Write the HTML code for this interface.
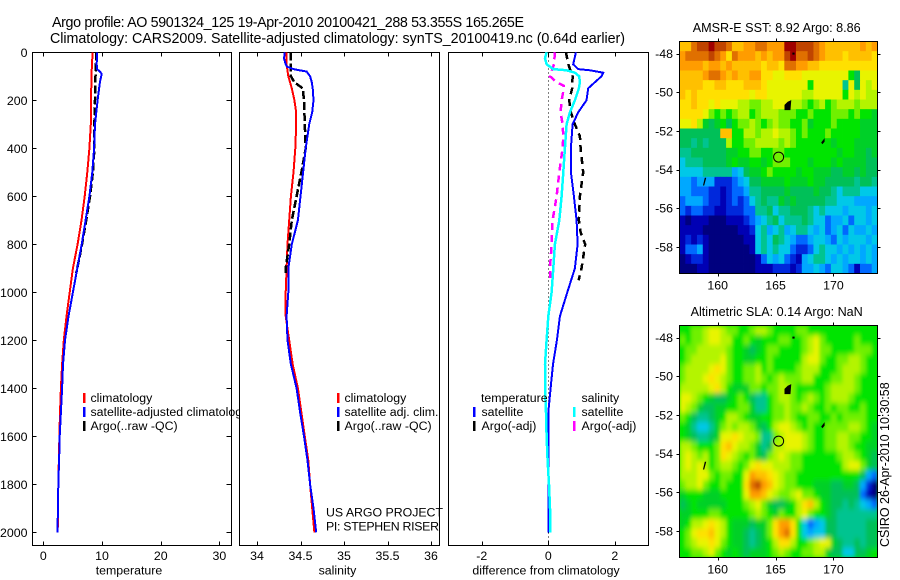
<!DOCTYPE html>
<html lang="en">
<head>
<meta charset="utf-8">
<title>Argo profile 5901324_125</title>
<style>
html,body{margin:0;padding:0;background:#fff;width:900px;height:580px;overflow:hidden}
svg{display:block}
text{font-family:"Liberation Sans",sans-serif;font-size:12.35px;fill:#000}
</style>
</head>
<body>
<svg id="chart" xmlns="http://www.w3.org/2000/svg" width="900" height="580" viewBox="0 0 900 580">
<defs>
<clipPath id="legend-clip"><rect x="0" y="380" width="240" height="60"/></clipPath>
<clipPath id="sla-clip"><rect x="679.5" y="325.5" width="198" height="232"/></clipPath>
<filter id="sla-smooth" x="-5%" y="-5%" width="110%" height="110%"><feGaussianBlur stdDeviation="1.8 2.6"/></filter>
</defs>
<rect width="900" height="580" fill="#fff"/>
<text x="52" y="27" textLength="472" lengthAdjust="spacing" style="font-size:14.3px">Argo profile: AO 5901324_125 19-Apr-2010 20100421_288 53.355S 165.265E</text>
<text x="50" y="43" textLength="575" lengthAdjust="spacing" style="font-size:14.3px">Climatology: CARS2009. Satellite-adjusted climatology: synTS_20100419.nc (0.64d earlier)</text>
<g id="panels"></g>

<g>
<rect x="83" y="393" width="2.5" height="10" fill="#f00"/>
<rect x="83" y="407" width="2.5" height="10" fill="#00f"/>
<rect x="83" y="421" width="2.5" height="10" fill="#000"/>
<text x="90.5" y="402">climatology</text>
<text x="90.5" y="416" clip-path="url(#legend-clip)">satellite-adjusted climatology</text>
<text x="90.5" y="430">Argo(..raw -QC)</text>
</g>
<g>
<rect x="337" y="393" width="2.5" height="10" fill="#f00"/>
<rect x="337" y="407" width="2.5" height="10" fill="#00f"/>
<rect x="337" y="421" width="2.5" height="10" fill="#000"/>
<text x="344.5" y="402">climatology</text>
<text x="344.5" y="416">satellite adj. clim.</text>
<text x="344.5" y="430">Argo(..raw -QC)</text>
<text x="326" y="516.5" textLength="117" lengthAdjust="spacing">US ARGO PROJECT</text>
<text x="326" y="530.5" textLength="113" lengthAdjust="spacing">PI: STEPHEN RISER</text>
</g>
<g>
<text x="481" y="402">temperature</text>
<rect x="473" y="407" width="2.5" height="10" fill="#00f"/>
<rect x="473" y="421" width="2.5" height="10" fill="#000"/>
<text x="481.5" y="416">satellite</text>
<text x="481.5" y="430">Argo(-adj)</text>
<text x="581.5" y="402">salinity</text>
<rect x="573" y="407" width="2.5" height="10" fill="#0ff"/>
<rect x="573" y="421" width="2.5" height="10" fill="#f0f"/>
<text x="581.5" y="416">satellite</text>
<text x="581.5" y="430">Argo(-adj)</text>
</g>
<text transform="translate(889,547) rotate(-90)" style="font-size:12.5px">CSIRO 26-Apr-2010 10:30:58</text>
</svg>
<script>
// ---------- profile data ----------
const depthTicks = [0,200,400,600,800,1000,1200,1400,1600,1800,2000];
const tempTicks = [0,10,20,30];
const salTicks = [34,34.5,35,35.5,36];
const salTickLabels = ['34','34.5','35','35.5','36'];
const diffTicks = [-2,0,2];
const diffTickLabels = ['-2','0','2'];

const climDepth = [0,100,200,300,400,500,600,700,800,900,1000,1100,1200,1300,1400,1500,1600,1800,2000];
const tempClim = [8.4,8.2,8.15,8.1,7.85,7.5,7.05,6.5,5.85,5.05,4.5,3.95,3.5,3.2,3.0,2.85,2.75,2.55,2.45];

const tempSatDepth = [0,50,70,80,90,125,200,300,400,500,600,700,800,900,1000,1100,1200,1300,1400,1500,1600,1700,1800,1900,2000];
const tempSat = [9.15,9.1,9.15,9.65,9.95,9.65,9.25,8.8,8.65,8.35,7.85,7.2,6.55,5.8,5.05,4.3,3.7,3.35,3.2,3.0,2.8,2.7,2.55,2.5,2.4];

const argoTempDepth = [0,100,200,300,400,500,600,700,800,850,920];
const tempArgo = [9.05,8.9,8.8,8.7,8.7,8.45,7.95,7.3,6.6,6.2,5.6];

const salClimDepth = [0,50,100,150,200,250,300,400,500,600,700,800,900,1000,1100,1200,1300,1400,1500,1600,1700,1800,1900,2000];
const salClim = [34.34,34.34,34.36,34.40,34.43,34.45,34.45,34.44,34.42,34.39,34.37,34.35,34.34,34.33,34.33,34.37,34.41,34.47,34.51,34.55,34.59,34.61,34.635,34.66];

const salSatDepth = [0,25,50,60,70,75,80,100,125,150,200,250,300,400,500,600,700,800,900,1000,1100,1200,1300,1400,1500,1600,1700,1800,1900,2000];
const salSat = [34.32,34.31,34.33,34.345,34.42,34.49,34.57,34.61,34.63,34.64,34.65,34.635,34.60,34.56,34.53,34.50,34.47,34.40,34.36,34.36,34.34,34.35,34.39,34.455,34.495,34.54,34.58,34.61,34.65,34.68];

const salArgoDepth = [0,100,125,150,200,300,400,500,600,700,800,900,920];
const salArgo = [34.39,34.39,34.43,34.525,34.54,34.55,34.56,34.51,34.455,34.40,34.37,34.33,34.33];

const diffTSatDepth = [0,50,70,75,85,100,125,150,200,250,300,400,500,600,700,800,900,1000,1100,1200,1300,1400,1500,2000];
const diffTSat = [0.83,0.75,0.9,1.25,1.65,1.6,1.4,1.2,1.15,0.9,0.73,0.68,0.68,0.77,0.85,0.88,0.8,0.57,0.35,0.26,0.14,0.07,0.0,0.0];

const diffSSatDepth = [0,25,50,70,75,85,100,125,150,200,250,300,400,500,600,700,800,900,1000,1100,1200,1300,1400,1500,1600,1700,1800,1900,2000];
const diffSSat = [-0.05,-0.1,-0.05,0.15,0.55,0.8,0.93,0.95,0.92,0.8,0.65,0.55,0.5,0.45,0.4,0.33,0.2,0.15,0.1,0.0,-0.05,-0.1,-0.1,-0.07,-0.05,-0.02,0.02,0.05,0.05];

const diffTArgoDepth = [0,50,100,150,200,250,300,350,400,500,600,700,750,800,900,950];
const diffTArgo = [0.53,0.6,0.73,0.72,0.63,0.68,0.8,0.95,0.97,1.05,0.95,0.92,0.97,1.11,1.0,0.91];

const diffSArgoDepth = [0,50,100,125,140,150,200,250,300,350,400,500,600,700,800,900,950];
const diffSArgo = [0.2,0.17,0.05,0.25,0.47,0.47,0.4,0.37,0.43,0.45,0.43,0.33,0.25,0.13,0.1,0.05,0.05];

// ---------- map data: colour level per cell, 0 (cold / low) to i (warm / high) ----------
const lonTicks = [160,165,170];
const latTicks = [-48,-50,-52,-54,-56,-58];
const sstGrid = [
"eeghh ihhge effgg fffii hhhgf eeeee efef",
"fgggg hgfdg fffef effhi gghgf eeede eeed",
"ffffe ffefe eeeed eedgg ffeed ddddd dddd",
"eeeef ggfef eeffd dccdd dcccc cccc9 7ccc",
"eeeed deedd deeed ccccc cc9cc ccc6c 7cbc",
"ededd ddddd ddcdd ccccc cbbcc ccc9c bcbb",
"ddedd cdccc bbaab bcccb ba9ab 9abbb abbb",
"ddddc a9a9a bb9ab bbaaa 99a99 9aaa9 a998",
"ccdb8 78979 aaba9 abaa9 9a899 9a999 9888",
"77777 77ee9 9bbab bcbba 9a999 a9999 9888",
"77676 777b9 9aabb bbaba 99999 98999 8888",
"66777 77788 99aa9 9aa99 99999 99899 8878",
"56667 77789 88998 9aaa9 99899 98988 8877",
"55556 66664 57889 a9999 89988 87788 7877",
"44344 42223 45778 88898 88988 77777 6776",
"44333 22123 34667 77787 77787 76566 6555",
"34443 22123 23567 66878 77777 66555 4444",
"32332 21122 23366 75667 77656 55545 5545",
"10111 00011 12345 67566 67655 34453 5545",
"11110 00000 11256 45645 66545 34535 4454",
"12121 00000 01156 57654 33455 43545 5545",
"13341 00000 00156 56553 22356 55454 5454",
"01221 00000 00013 54532 14566 54545 5454",
"00011 00000 00011 12221 24454 35543 1334"
];
const slaGrid = [
"99aab ccbaa 99abb a9999 aa999 99999 9999",
"a9aab ccbb9 9a989 99aa9 9abca 99999 a999",
"9aabb bbba9 98789 aa999 9abca a9999 aaa9",
"9abbb bbca9 98899 a9999 9bcca 99aab ba99",
"abbbb cdca9 9aab9 a9999 abbb9 99abb ba99",
"abbbc dcba9 9aaba 9abaa abb99 9aabb a999",
"bbbbb cdb98 88aa9 aabba 99999 abbbb a999",
"ccba9 87789 a9766 9abba 9aba9 abbba 9999",
"cba87 78899 aa866 9aaba aba99 a9aa9 9a99",
"a9766 789bb a9889 9aaba 99aa9 9a9aa aa99",
"98655 68aba bba87 9bccb a9a99 aaaab ba98",
"98766 78ccd cbba6 6abcc cba99 aabba a998",
"bba99 9adec bba86 7bbcc cba99 aabba 9988",
"bcbab 9adcb a9a87 abcba a9999 99abb a987",
"bcbcb 9abba 9acdc cbbba a9999 999bc ca87",
"bbbcc a9aa9 9cfee dcbaa 99999 99999 9743",
"abbca 99a99 9dghf ecbaa 99988 87788 7420",
"89998 88999 9cffe cbaab caa98 87777 7310",
"78988 88899 9abca 87789 bdeb9 87767 6543",
"88999 aa999 99aba 98a99 bca99 87666 6666",
"89bbc dcb98 88788 adffd 95345 77666 6677",
"9acdd ecb98 87678 adfgd 95455 77666 6677",
"9abcc dca98 87678 9bddb 99abc c8766 7677",
"99aab ca989 87888 9aba9 9aabb 87755 7789"
];
const profileLon = [165.265];
const profileLat = [-53.355];
const aucklandLon = [165.82,165.82,166.25,166.31,166.08];
const aucklandLat = [-50.67,-50.9,-50.9,-50.45,-50.52];
const campbellLon = [169.0,169.2,169.2,169.05];
const campbellLat = [-52.6,-52.45,-52.55,-52.65];
const macquarieLon = [158.8,158.95,158.92,158.78];
const macquarieLat = [-54.8,-54.45,-54.45,-54.8];
const bountyLon = [166.5,166.6,166.6,166.5];
const bountyLat = [-47.98,-47.98,-48.03,-48.03];

// ---------- colour scale ----------
const levelColors = {'0':'#00007f','1':'#0000b4','2':'#0028dc','3':'#0068ff','4':'#00a8ff','5':'#00c8e8','6':'#00c490','7':'#00c058','8':'#00d028','9':'#00e400','a':'#70f000','b':'#b4f400','c':'#e8f400','d':'#ffe000','e':'#ffc000','f':'#ff9c00','g':'#e07000','h':'#c04400','i':'#a00000'};

// ---------- axis functions ----------
const root = document.getElementById('panels');
const NS = 'http://www.w3.org/2000/svg';
function mk(parent, tag, attrs, name) {
  const el = document.createElementNS(NS, tag);
  for (const k in attrs) el.setAttribute(k, attrs[k]);
  
  
  parent.appendChild(el);
  return el;
}
const PROF_TOP = 52.5, PROF_BOTTOM = 545.5;
const yDepth = d => 52.3 + 0.24 * d;
const xTemp = v => 43.3 + 5.87 * v;
const xSal = v => 257 + 87 * (v - 34);
const xDiff = v => 548.3 + 33.25 * v;

function line(g, x1, y1, x2, y2, name) {
  return mk(g, 'line', {x1, y1, x2, y2, stroke:'#000', 'stroke-width':1, 'shape-rendering':'crispEdges'}, name);
}
function profilePanel(name, left, right, xFn, ticks, labels, xlabel, xlabelX, showDepth) {
  const g = mk(root, 'g', {}, name);
  mk(g, 'rect', {x:left, y:PROF_TOP, width:right-left, height:PROF_BOTTOM-PROF_TOP, fill:'#fff', stroke:'#000', 'stroke-width':1, 'shape-rendering':'crispEdges'}, 'plot-frame');
  ticks.forEach((t, i) => {
    const x = Math.round(xFn(t)) + 0.5;
    line(g, x, PROF_TOP, x, PROF_TOP + 4, 'x-tick-top');
    line(g, x, PROF_BOTTOM, x, PROF_BOTTOM - 4, 'x-tick-bottom');
    const label = mk(g, 'text', {x:xFn(t), y:560, 'text-anchor':'middle'}, 'x-tick-label');
    label.textContent = labels[i];
  });
  if (showDepth) {
    depthTicks.forEach(d => {
      const y = Math.round(yDepth(d)) + 0.5;
      if (d > 0) line(g, left, y, left + 4, y, 'y-tick-left');
      if (d > 0) line(g, right, y, right - 5, y, 'y-tick-right');
      const label = mk(g, 'text', {x:27.5, y:yDepth(d) + 4.5, 'text-anchor':'end'}, 'y-tick-label');
      label.textContent = String(d);
    });
  }
  const xl = mk(g, 'text', {x:xlabelX, y:574.5, 'text-anchor':'middle'}, 'x-axis-title');
  xl.textContent = xlabel;
  return g;
}
function series(g, depths, vals, xFn, color, name, dash, width) {
  const pts = depths.map((d, i) => xFn(vals[i]).toFixed(1) + ',' + yDepth(d).toFixed(1)).join(' ');
  const attrs = {points:pts, fill:'none', stroke:color, 'stroke-width':width || 2, 'shape-rendering':'crispEdges'};
  if (dash) attrs['stroke-dasharray'] = dash;
  return mk(g, 'polyline', attrs, name);
}

// ---------- temperature ----------
const p1 = profilePanel('temperature-panel', 32.5, 231.5, xTemp, tempTicks, tempTicks.map(String), 'temperature', 129, true);
series(p1, climDepth, tempClim, xTemp, '#f00', 'temperature-climatology-line');
series(p1, argoTempDepth, tempArgo, xTemp, '#000', 'temperature-argo-line', '8 3', 2.5);
series(p1, tempSatDepth, tempSat, xTemp, '#00f', 'temperature-satellite-line');

// ---------- salinity ----------
const p2 = profilePanel('salinity-panel', 239.5, 439.5, xSal, salTicks, salTickLabels, 'salinity', 337.5, false);
series(p2, salClimDepth, salClim, xSal, '#f00', 'salinity-climatology-line');
series(p2, salArgoDepth, salArgo, xSal, '#000', 'salinity-argo-line', '8 3', 2.5);
series(p2, salSatDepth, salSat, xSal, '#00f', 'salinity-satellite-line');

// ---------- difference ----------
const p3 = profilePanel('difference-panel', 448.5, 648.5, xDiff, diffTicks, diffTickLabels, 'difference from climatology', 546, false);
mk(p3, 'line', {x1:xDiff(0), y1:yDepth(0), x2:xDiff(0), y2:yDepth(2060), stroke:'#000', 'stroke-width':1, 'stroke-dasharray':'1 3', 'shape-rendering':'crispEdges'}, 'zero-reference-line');
series(p3, diffTArgoDepth, diffTArgo, xDiff, '#000', 'difference-t-argo-line', '7 5', 2.5);
series(p3, diffSArgoDepth, diffSArgo, xDiff, '#f0f', 'difference-s-argo-line', '7 5', 2.5);
series(p3, diffTSatDepth, diffTSat, xDiff, '#00f', 'difference-t-satellite-line');
series(p3, diffSSatDepth, diffSSat, xDiff, '#0ff', 'difference-s-satellite-line', null, 2.5);

// ---------- maps ----------
const MAP_LEFT = 679.5, MAP_RIGHT = 877.5, MAP_H = 232;
function mapPanel(name, top, grid, title, smooth) {
  const g = mk(root, 'g', {}, name);
  const rows = grid.map(r => r.replace(/ /g, ''));
  const lonX = v => 717.7 + 11.57 * (v - 160);
  const latY = v => top + 12 + 19.34 * (-48 - v);
  const cw = (MAP_RIGHT - MAP_LEFT) / rows[0].length;
  const ch = MAP_H / rows.length;
  let cellParent = g;
  if (smooth) {
    const clipG = mk(g, 'g', {'clip-path':'url(#sla-clip)'}, 'heatmap-clip');
    mk(clipG, 'rect', {x:MAP_LEFT, y:top, width:MAP_RIGHT-MAP_LEFT, height:MAP_H, fill:levelColors['9']}, 'heatmap-base');
    cellParent = mk(clipG, 'g', {filter:'url(#sla-smooth)'}, 'heatmap-cells');
  }
  rows.forEach((row, r) => {
    for (let c = 0; c < row.length; c++) {
      mk(cellParent, 'rect', {x:(MAP_LEFT + c * cw).toFixed(2), y:(top + r * ch).toFixed(2), width:(cw + 0.4).toFixed(2), height:(ch + 0.4).toFixed(2), fill:levelColors[row[c]]}, 'heatmap-cell');
    }
  });
  [[aucklandLon,aucklandLat,'auckland-island'],[campbellLon,campbellLat,'campbell-island'],[macquarieLon,macquarieLat,'macquarie-island'],[bountyLon,bountyLat,'snares-island']].forEach(s => {
    const pts = s[0].map((lon, i) => lonX(lon).toFixed(1) + ',' + latY(s[1][i]).toFixed(1)).join(' ');
    mk(g, 'polygon', {points:pts, fill:'#000', stroke:'#000', 'stroke-width':1}, s[2]);
  });
  mk(g, 'circle', {cx:lonX(profileLon[0]), cy:latY(profileLat[0]), r:5, fill:'none', stroke:'#000', 'stroke-width':1}, 'profile-location-marker');
  mk(g, 'rect', {x:MAP_LEFT, y:top, width:MAP_RIGHT-MAP_LEFT, height:MAP_H, fill:'none', stroke:'#000', 'stroke-width':1, 'shape-rendering':'crispEdges'}, 'map-frame');
  lonTicks.forEach(v => {
    const x = Math.round(lonX(v)) + 0.5;
    line(g, x, top - 3, x, top, 'lon-tick-top');
    line(g, x, top + MAP_H, x, top + MAP_H + 3, 'lon-tick-bottom');
    const label = mk(g, 'text', {x:lonX(v), y:top + MAP_H + 16, 'text-anchor':'middle'}, 'lon-tick-label');
    label.textContent = String(v);
  });
  latTicks.forEach(v => {
    const y = Math.round(latY(v)) + 0.5;
    line(g, MAP_LEFT - 3, y, MAP_LEFT, y, 'lat-tick-left');
    line(g, MAP_RIGHT, y, MAP_RIGHT + 3, y, 'lat-tick-right');
    const label = mk(g, 'text', {x:673, y:latY(v) + 4.5, 'text-anchor':'end'}, 'lat-tick-label');
    label.textContent = String(v);
  });
  const t = mk(g, 'text', {x:776.7, y:top - 9.5, 'text-anchor':'middle', style:'font-size:12.6px'}, 'map-title');
  t.textContent = title;
}
mapPanel('sst-map', 41.5, sstGrid, 'AMSR-E SST: 8.92 Argo: 8.86', false);
mapPanel('sla-map', 325.5, slaGrid, 'Altimetric SLA: 0.14 Argo: NaN', true);
</script>
</body>
</html>
